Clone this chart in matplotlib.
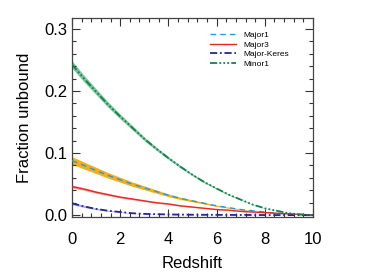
import numpy as np
import matplotlib
matplotlib.use('Agg')
import matplotlib.pyplot as plt
from matplotlib.ticker import MultipleLocator

plt.rcParams['font.family'] = ['Liberation Sans', 'DejaVu Sans']

# redshift grid and fraction unbound
redshift = [0, 0.5, 1, 1.5, 2, 2.5, 3, 3.5, 4, 4.5, 5,
            5.5, 6, 6.5, 7, 7.5, 8, 8.5, 9, 9.5, 10]
major1 = [0.088, 0.080, 0.072, 0.064, 0.057, 0.050, 0.044, 0.038, 0.032, 0.027, 0.023,
          0.019, 0.015, 0.012, 0.009, 0.007, 0.005, 0.003, 0.002, 0.001, 0.0]
major3 = [0.046, 0.042, 0.037, 0.033, 0.029, 0.026, 0.023, 0.020, 0.018, 0.015, 0.013,
          0.011, 0.009, 0.008, 0.006, 0.005, 0.004, 0.003, 0.002, 0.001, 0.0]
major_keres = [0.019, 0.014, 0.010, 0.007, 0.005, 0.003, 0.002, 0.0015, 0.001, 0.0008, 0.0006,
               0.0005, 0.0004, 0.0003, 0.0002, 0.0002, 0.0001, 0.0001, 0.0, 0.0, 0.0]
minor1 = [0.243, 0.220, 0.199, 0.178, 0.159, 0.141, 0.123, 0.107, 0.092, 0.078, 0.065,
          0.053, 0.043, 0.033, 0.025, 0.017, 0.011, 0.007, 0.003, 0.001, 0.0]

# relative half-width of the shaded bands
band_frac = {'Major1': 0.07, 'Major3': 0.05, 'Major-Keres': 0.12, 'Minor1': 0.024}

z = np.array(redshift)

fig = plt.figure(figsize=(3.85, 2.75), dpi=100)
ax = fig.add_axes([0.187, 0.211, 0.626, 0.724])

def band(vals, frac, color):
    v = np.array(vals)
    ax.fill_between(z, v * (1 - frac), v * (1 + frac), color=color, lw=0, zorder=1)

band(minor1, band_frac['Minor1'], '#7cc59c')
band(major1, band_frac['Major1'], '#f7ad19')
band(major3, band_frac['Major3'], '#f4a3a0')
band(major_keres, band_frac['Major-Keres'], '#a7b4e4')

ax.plot(z, major1, color='#1e9fdc', ls=(0, (4, 3)), lw=1.0, label='Major1', zorder=3)
ax.plot(z, major3, color='#e8281e', ls='-', lw=1.0, label='Major3', zorder=3)
ax.plot(z, major_keres, color='#25259a', ls=(0, (4, 1.5, 1, 1.5)), lw=1.3,
        label='Major-Keres', zorder=3)
ax.plot(z, minor1, color='#12834a', ls=(0, (4, 1.2, 1, 1.2, 1, 1.2, 1, 1.2)), lw=1.3,
        label='Minor1', zorder=3)

ax.set_xlim(0, 10)
ax.set_ylim(-0.003, 0.318)
ax.xaxis.set_major_locator(MultipleLocator(2))
ax.xaxis.set_minor_locator(MultipleLocator(0.4))
ax.yaxis.set_major_locator(MultipleLocator(0.1))
ax.yaxis.set_minor_locator(MultipleLocator(0.02))
ax.yaxis.set_major_formatter(plt.FormatStrFormatter('%.1f'))
ax.tick_params(which='both', direction='in', top=True, right=True, labelsize=12,
               width=0.8, color='#333333')
ax.tick_params(which='major', length=6)
ax.tick_params(which='minor', length=3)
ax.tick_params(axis='x', pad=11)
ax.tick_params(axis='y', pad=3)
for s in ax.spines.values():
    s.set_linewidth(0.9)
    s.set_color('#444444')

ax.set_xlabel('Redshift', fontsize=12, labelpad=6)
ax.set_ylabel('Fraction unbound', fontsize=12, labelpad=9)

ax.legend(loc='upper right', frameon=False, fontsize=6, handlelength=3.2,
          labelspacing=0.2, bbox_to_anchor=(0.93, 0.97))

fig.savefig('out.png', dpi=100)
